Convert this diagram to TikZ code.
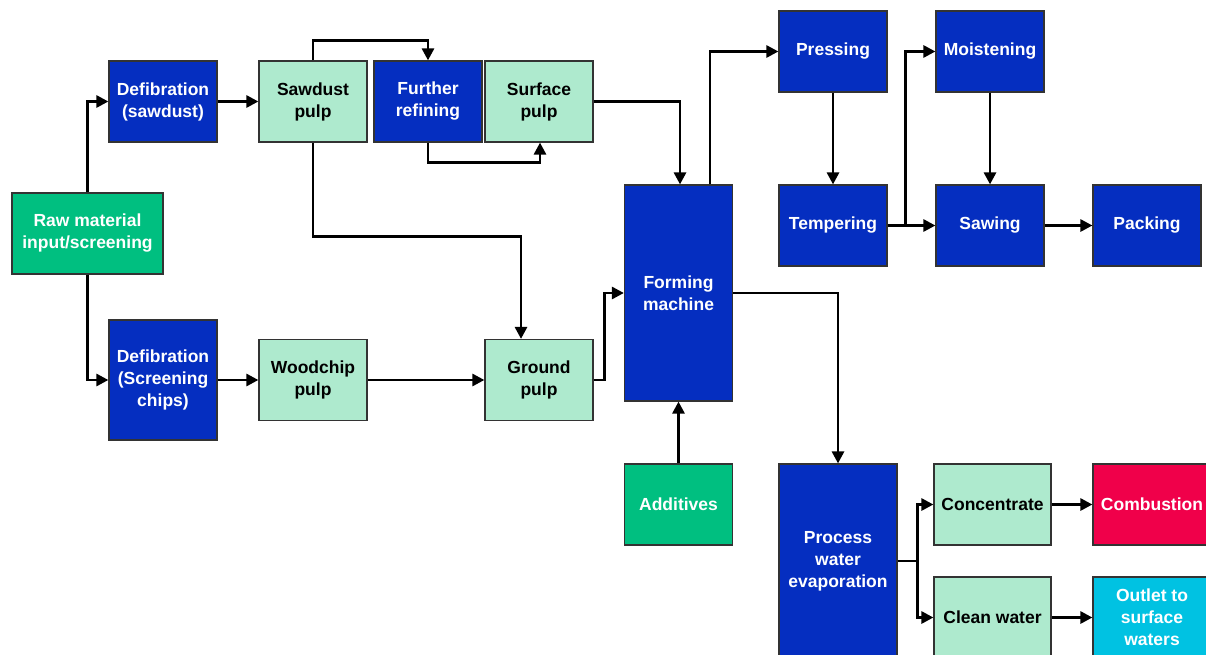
\documentclass[tikz,border=0pt]{standalone}
\usepackage{fontspec}
\setmainfont{Liberation Sans}
\usepackage{xcolor}
\usetikzlibrary{arrows.meta}

\definecolor{procblue}{RGB}{5,46,192}
\definecolor{pulpgreen}{RGB}{174,234,206}
\definecolor{inputgreen}{RGB}{0,191,128}
\definecolor{burnred}{RGB}{240,0,74}
\definecolor{watercyan}{RGB}{0,194,226}

\tikzset{
  box/.style={draw=black!80, line width=1.2pt, inner sep=0pt, align=center,
    minimum width=108pt, minimum height=81pt,
    font=\fontsize{17.5}{22}\selectfont\bfseries},
  proc/.style={box, fill=procblue, text=white},
  pulp/.style={box, fill=pulpgreen, text=black},
  feed/.style={box, fill=inputgreen, text=white},
  flow/.style={line width=2.8pt, -{Triangle[length=12pt,width=12pt]}},
  wire/.style={line width=2.8pt}
}

\begin{document}
\begin{tikzpicture}[x=1pt, y=-1pt]
    \useasboundingbox (0,0) rectangle (1206,655);
    \clip (0,0) rectangle (1206,655);

    % raw material and the two defibration lines
    \node[feed, minimum width=151pt] (raw) at (87.5,233.5) {Raw material\\input/screening};
    \node[proc] (defsaw) at (163,101.5) {Defibration\\(sawdust)};
    \node[proc, minimum height=120pt] (defchip) at (163,380) {Defibration\\(Screening\\chips)};

    \node[pulp] (sawpulp) at (313,101.5) {Sawdust\\pulp};
    \node[proc] (refine) at (428,101.5) {Further\\refining};
    \node[pulp] (surfpulp) at (539,101.5) {Surface\\pulp};
    \node[pulp] (chippulp) at (313,380) {Woodchip\\pulp};
    \node[pulp] (groundpulp) at (539,380) {Ground\\pulp};

    \node[proc, minimum height=216pt] (forming) at (678.5,293) {Forming\\machine};
    \node[feed] (additives) at (678.5,504.5) {Additives};

    % board line
    \node[proc] (pressing) at (833,51.5) {Pressing};
    \node[proc] (tempering) at (833,225.5) {Tempering};
    \node[proc] (moisten) at (990,51.5) {Moistening};
    \node[proc] (sawing) at (990,225.5) {Sawing};
    \node[proc] (packing) at (1147,225.5) {Packing};

    % water line
    \node[proc, minimum width=118pt, minimum height=194pt] (evap) at (838,561) {Process\\water\\evaporation};
    \node[pulp, minimum width=117pt] (concentrate) at (992.5,504.5) {Concentrate};
    \node[pulp, minimum width=117pt] (cleanwater) at (992.5,617.5) {Clean water};
    \node[box, fill=burnred, text=white, minimum width=118pt] (combustion) at (1152,504.5) {Combustion};
    \node[box, fill=watercyan, text=white, minimum width=118pt] (outlet) at (1152,617.5) {Outlet to\\surface\\waters};

    \draw[flow] (raw.north) |- (defsaw.west);
    \draw[flow] (raw.south) |- (defchip.west);
    \draw[flow] (defsaw) -- (sawpulp);
    \draw[flow] (sawpulp.north) -- ++(0,-20) -| (refine.north);
    \draw[flow] (refine.south) -- ++(0,20) -| ([xshift=1pt]surfpulp.south);
    \draw[flow] (surfpulp.east) -| ([xshift=1.5pt]forming.north);
    \draw[flow] (sawpulp.south) -- ++(0,94) -| ([xshift=-18pt]groundpulp.north);
    \draw[flow] (defchip) -- (chippulp);
    \draw[flow] (chippulp) -- (groundpulp);
    \draw[flow] (groundpulp.east) -- ++(11,0) |- (forming.west);
    \draw[flow] (additives) -- (forming);

    \draw[flow] ([xshift=31.5pt]forming.north) |- (pressing.west);
    \draw[flow] (pressing) -- (tempering);
    \draw[flow] (tempering) -- (sawing);
    \coordinate (tsplit) at ([xshift=18pt]tempering.east);
    \draw[flow] (tsplit) |- (moisten.west);
    \draw[flow] (moisten) -- (sawing);
    \draw[flow] (sawing) -- (packing);

    \draw[flow] (forming.east) -| (evap.north);
    \coordinate (esplit) at ([xshift=20pt]evap.east);
    \draw[wire] (evap.east) -- (esplit);
    \draw[flow] (esplit) |- (concentrate.west);
    \draw[flow] (esplit) |- (cleanwater.west);
    \draw[flow] (concentrate) -- (combustion);
    \draw[flow] (cleanwater) -- (outlet);
\end{tikzpicture}
\end{document}
